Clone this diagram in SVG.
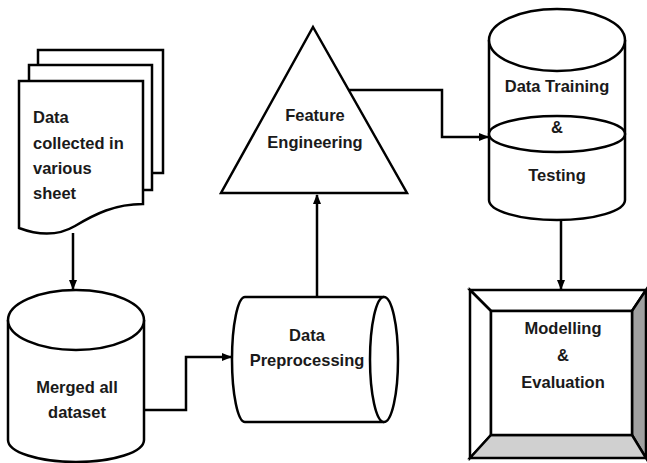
<svg xmlns="http://www.w3.org/2000/svg" width="647" height="463" viewBox="0 0 647 463">
<defs>
<style>
.s{fill:#fff;stroke:#000;stroke-width:2.5;stroke-linejoin:miter}
.c{fill:none;stroke:#000;stroke-width:2.5}
text{font-family:"Liberation Sans",Arial,sans-serif;font-weight:bold;font-size:16.5px;fill:#1a1a1a}
.m{text-anchor:middle}
</style>
<marker id="ah" markerWidth="10" markerHeight="8" refX="9" refY="4" orient="auto" markerUnits="userSpaceOnUse">
<path d="M0,0 L10,4 L0,8 Z" fill="#000"/>
</marker>
</defs>
<rect width="647" height="463" fill="#fff"/>
<g id="doc">
<rect class="s" x="38" y="50" width="125" height="123"/>
<rect class="s" x="29" y="65" width="123" height="125"/>
<path class="s" d="M19,81 H143 V204 C115,204 95,214 75,226 C58,236 40,236 19,228 Z"/>
<text x="33" y="123">Data</text>
<text x="33" y="149">collected in</text>
<text x="33" y="174">various</text>
<text x="33" y="199">sheet</text>
</g>
<g id="merged">
<path class="s" d="M8,320 V440 A68,22 0 0 0 144,440 V320"/>
<ellipse class="s" cx="76" cy="320" rx="68" ry="30"/>
<text class="m" x="77" y="393">Merged all</text>
<text class="m" x="77" y="418">dataset</text>
</g>
<g id="preproc">
<path class="s" d="M384,297 H245 A13,62.5 0 0 0 245,422 H384"/>
<ellipse class="s" cx="384" cy="359.5" rx="14" ry="62.5"/>
<text class="m" x="307" y="341">Data</text>
<text class="m" x="307" y="366">Preprocessing</text>
</g>
<g id="feature">
<path class="s" d="M313,27 L407,193 L221,193 Z"/>
<text class="m" x="315" y="121">Feature</text>
<text class="m" x="315" y="148">Engineering</text>
</g>
<g id="training">
<path class="s" d="M489,40 V200 A68,20 0 0 0 625,200 V40"/>
<ellipse class="s" cx="557" cy="40" rx="68" ry="31"/>
<ellipse class="s" cx="557" cy="134" rx="68" ry="18"/>
<text class="m" x="557" y="92">Data Training</text>
<text class="m" x="557" y="133">&amp;</text>
<text class="m" x="557" y="181">Testing</text>
</g>
<g id="modelling">
<polygon class="s" points="470,290 646,290 632,311 491,311"/>
<polygon class="s" points="470,290 491,311 491,435 470,458"/>
<polygon class="s" points="646,290 646,458 632,435 632,311" style="fill:#a0a0a0"/>
<polygon class="s" points="470,458 646,458 632,435 491,435" style="fill:#d0d0d0"/>
<rect class="s" x="491" y="311" width="141" height="124"/>
<text class="m" x="563" y="334">Modelling</text>
<text class="m" x="563" y="361">&amp;</text>
<text class="m" x="563" y="388">Evaluation</text>
</g>
<g id="connectors">
<path class="c" d="M73,233 V289" marker-end="url(#ah)"/>
<path class="c" d="M144,410 H186 V357 H231" marker-end="url(#ah)"/>
<path class="c" d="M317,297 V195" marker-end="url(#ah)"/>
<path class="c" d="M349,90 H442 V137 H488" marker-end="url(#ah)"/>
<path class="c" d="M561,220 V289" marker-end="url(#ah)"/>
</g>
</svg>
